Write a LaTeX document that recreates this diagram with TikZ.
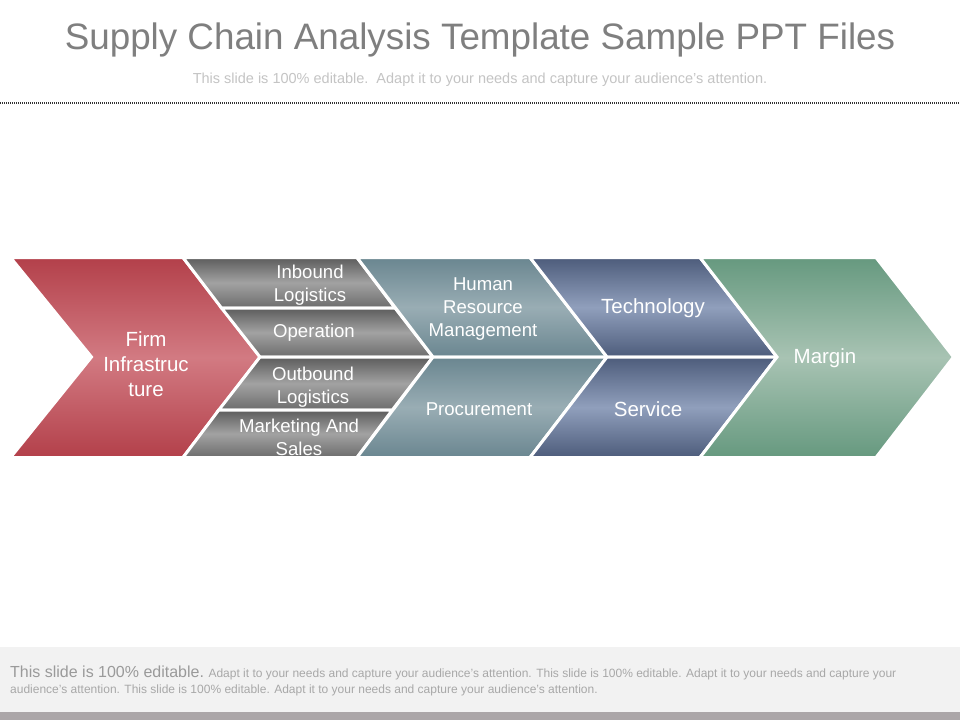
\documentclass[tikz,border=0pt]{standalone}
\usepackage{fontspec}
\setmainfont{Liberation Sans}
\definecolor{redT}{HTML}{B3404A}
\definecolor{redM}{HTML}{D27A82}
\definecolor{grayT}{HTML}{5C5C5C}
\definecolor{grayM}{HTML}{A2A2A2}
\definecolor{grayB}{HTML}{6C6C6C}
\definecolor{slateT}{HTML}{6A8690}
\definecolor{slateM}{HTML}{99ADB4}
\definecolor{blueT}{HTML}{4D5C7B}
\definecolor{blueM}{HTML}{909FBC}
\definecolor{greenT}{HTML}{66997F}
\definecolor{greenM}{HTML}{A8C3B3}
\definecolor{titlegray}{HTML}{7F7F7F}
\definecolor{subgray}{HTML}{C4C4C4}
\definecolor{panel}{HTML}{F2F2F2}
\definecolor{barcol}{HTML}{ABA6A8}
\definecolor{foot}{HTML}{9A9A9A}
\definecolor{footsmall}{HTML}{A8A8A8}
\begin{document}
\begin{tikzpicture}[x=1pt,y=-1pt,
  seg/.style={draw=white,line width=3pt,line join=miter},
  redseg/.style={seg,top color=redT,bottom color=redT,middle color=redM},
  grayseg/.style={seg,top color=grayT,bottom color=grayB,middle color=grayM},
  slateseg/.style={seg,top color=slateT,bottom color=slateT,middle color=slateM},
  blueseg/.style={seg,top color=blueT,bottom color=blueT,middle color=blueM},
  greenseg/.style={seg,top color=greenT,bottom color=greenT,middle color=greenM},
  lblS/.style={text=white,align=center,font=\fontsize{18.6}{23}\selectfont},
  lblL/.style={text=white,align=center,font=\fontsize{20.5}{25}\selectfont}]
\useasboundingbox (0,0) rectangle (960,720);
\fill[white] (0,0) rectangle (960,720);
% title
\node[text=titlegray,font=\fontsize{36.8}{40}\selectfont] (title) at (480,40) {Supply Chain Analysis Template Sample PPT Files};
\node[text=subgray,font=\fontsize{14.5}{16}\selectfont] (subtitle) at (480,80) {This slide is 100\% editable.\ \ Adapt it to your needs and capture your audience's attention.};
\draw[black!80,line width=2pt,dash pattern=on 1pt off 1pt] (0,103) -- (960,103);
% chevrons
\path[redseg] (10.5,257.5) -- (183,257.5) -- (260,357) -- (183,457.5) -- (10.5,457.5) -- (91.5,357) -- cycle;
\path[grayseg] (183,257.5) -- (357,257.5) -- (395,308) -- (221.5,308) -- cycle;
\path[grayseg] (221.5,308) -- (395,308) -- (433,357) -- (260,357) -- cycle;
\path[grayseg] (260,357) -- (433,357) -- (392.3,410) -- (218.8,410) -- cycle;
\path[grayseg] (218.8,410) -- (392.3,410) -- (357,457.5) -- (183,457.5) -- cycle;
\path[slateseg] (357,257.5) -- (530,257.5) -- (607,357) -- (433,357) -- cycle;
\path[slateseg] (433,357) -- (607,357) -- (530,457.5) -- (357,457.5) -- cycle;
\path[blueseg] (530,257.5) -- (700,257.5) -- (777,357) -- (607,357) -- cycle;
\path[blueseg] (607,357) -- (777,357) -- (700,457.5) -- (530,457.5) -- cycle;
\path[greenseg] (700,257.5) -- (876,257.5) -- (953.5,357) -- (876,457.5) -- (700,457.5) -- (777,357) -- cycle;
% labels
\node[lblL] (firm) at (146,364) {Firm\\Infrastruc\\ture};
\node[lblS] (inbound) at (310,285) {Inbound\\Logistics};
\node[lblS] (operation) at (314,333) {Operation};
\node[lblS] (outbound) at (313,387) {Outbound\\Logistics};
\node[lblS] (marketing) at (299,437) {Marketing And\\Sales};
\node[lblS] (hr) at (483,309) {Human\\Resource\\Management};
\node[lblS] (procurement) at (479,409) {Procurement};
\node[lblL] (technology) at (653,308) {Technology};
\node[lblL] (service) at (648,409) {Service};
\node[lblL] (margin) at (825,358) {Margin};
% footer
\fill[panel] (0,647) rectangle (960,712);
\fill[barcol] (0,712) rectangle (960,720);
\node[anchor=west,align=left,inner sep=0pt,text=footsmall,font=\fontsize{12}{16}\selectfont] (footer) at (10,681)
 {{\color{foot}\fontsize{16}{16}\selectfont This slide is 100\% editable.} Adapt it to your needs and capture your audience's attention. This slide is 100\% editable. Adapt it to your needs and capture your\\audience's attention. This slide is 100\% editable. Adapt it to your needs and capture your audience's attention.};
\end{tikzpicture}
\end{document}
